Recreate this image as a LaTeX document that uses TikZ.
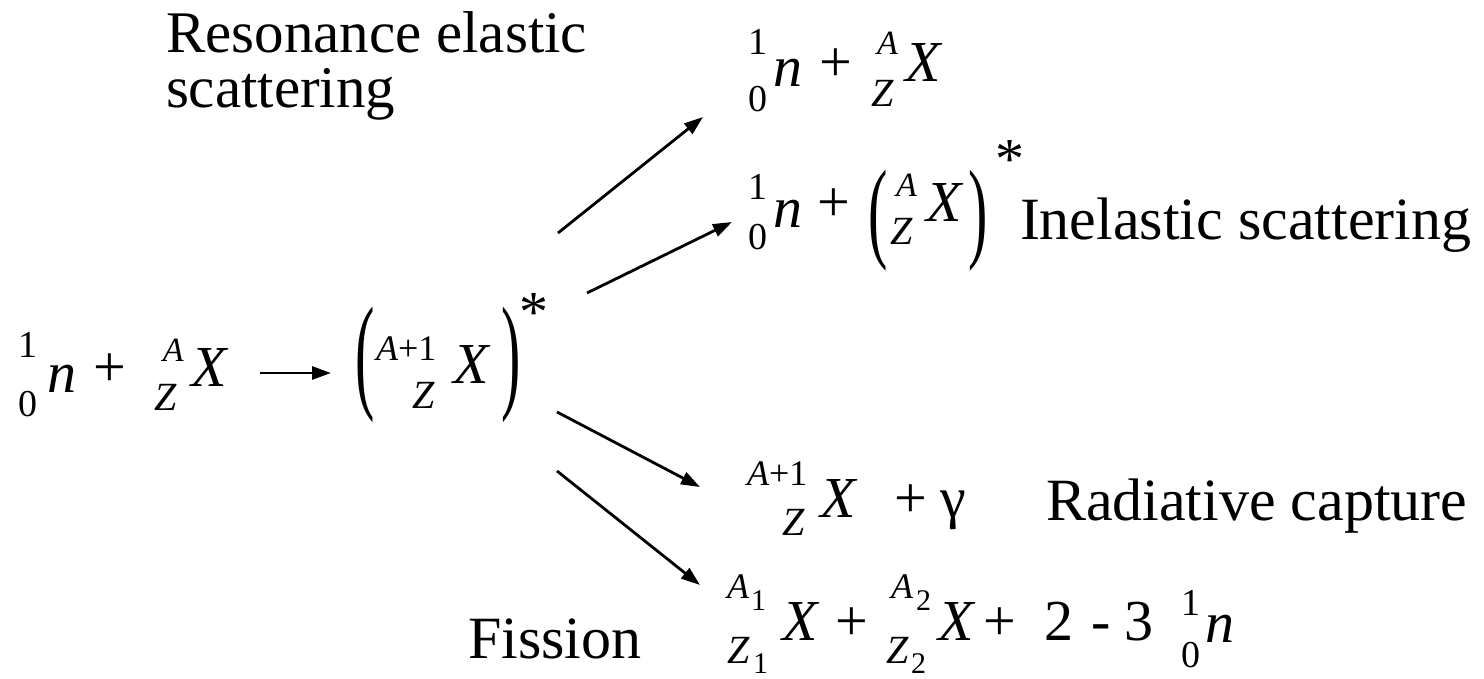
\documentclass[tikz,border=0pt]{standalone}
\usepackage{fontspec}
\IfFontExistsTF{LiberationSerif-Regular.ttf}
 {\setmainfont{LiberationSerif}[Extension=.ttf,UprightFont=*-Regular,ItalicFont=*-Italic,BoldFont=*-Bold,BoldItalicFont=*-BoldItalic]}
 {\setmainfont{Liberation Serif}}
\usepackage{graphicx}
\usetikzlibrary{arrows.meta}
\newcommand\fs[1]{\fontsize{#1}{#1}\selectfont}
\newcommand\at[3]{\rlap{\kern#1pt\raisebox{#2pt}{#3}}}
\begin{document}
\begin{tikzpicture}[x=1pt,y=-1pt,
  txt/.style={anchor=base west,inner sep=0pt,outer sep=0pt,font=\fs{58}},
  lbl/.style={txt,font=\fs{60}},
  arr/.style={line width=2.8pt,-{Triangle[length=19pt,width=13pt]}}]
\useasboundingbox (0,0) rectangle (1484,679);
% labels
\node[lbl,align=left,font=\fontsize{59}{55}\selectfont] (res) at (166,108) {Resonance elastic\\scattering};
\node[lbl] (inel) at (1020,240) {Inelastic scattering};
\node[lbl] (rad) at (1046,520) {Radiative capture};
\node[lbl] (fis) at (468,658) {Fission};
% left side
\node[txt] (lhs) at (18,386) {%
 \at{0}{29}{\fs{38}1}\at{0}{-30}{\fs{38}0}%
 \at{29}{-6}{\textit{n}}\at{75}{0}{+}%
 \at{145}{25}{\fs{34}\textit{A}}\at{137}{-24}{\fs{40}\textit{Z}}%
 \at{173}{0}{\textit{X}}\hspace*{222pt}};
\node[txt] (cmp) at (355,383) {%
 \at{0}{-13}{\scalebox{1}[2.2]{(}}%
 \at{21}{23}{\fs{36}\textit{A}+1}\at{57}{-25}{\fs{40}\textit{Z}}%
 \at{98}{0}{\textit{X}}%
 \at{146}{-13}{\scalebox{1}[2.2]{)}}%
 \at{164}{52}{*}\hspace*{185pt}};
% products
\node[txt] (p1) at (748,82) {%
 \at{0}{27}{\fs{38}1}\at{0}{-30}{\fs{38}0}%
 \at{25}{-5}{\textit{n}}\at{71}{0}{+}%
 \at{129}{27}{\fs{34}\textit{A}}\at{123}{-25}{\fs{40}\textit{Z}}%
 \at{157}{0}{\textit{X}}\hspace*{205pt}};
\node[txt] (p2) at (748,222) {%
 \at{0}{22}{\fs{38}1}\at{0}{-28}{\fs{38}0}%
 \at{25}{-6}{\textit{n}}\at{69}{0}{+}%
 \at{120}{-26}{\scalebox{1}[1.92]{(}}%
 \at{148}{25}{\fs{34}\textit{A}}\at{142}{-23}{\fs{40}\textit{Z}}%
 \at{178}{0}{\textit{X}}%
 \at{220}{-26}{\scalebox{1}[1.92]{)}}%
 \at{247}{43}{*}\hspace*{270pt}};
\node[txt] (p3) at (747,517) {%
 \at{0}{32}{\fs{36}\textit{A}+1}\at{35}{-18}{\fs{40}\textit{Z}}%
 \at{73}{0}{\textit{X}}\at{147}{0}{+}\at{193}{0}{γ}\hspace*{225pt}};
\node[txt] (p4) at (727,640) {%
 \at{0}{42}{\fs{36}\textit{A}}\at{24}{30}{\fs{30}1}%
 \at{0}{-23}{\fs{40}\textit{Z}}\at{26}{-33}{\fs{30}1}%
 \at{55}{0}{\textit{X}}\at{108}{0}{+}%
 \at{164}{42}{\fs{36}\textit{A}}\at{189}{30}{\fs{30}2}%
 \at{159}{-23}{\fs{40}\textit{Z}}\at{184}{-33}{\fs{30}2}%
 \at{211}{0}{\textit{X}}\at{256}{0}{+}%
 \at{318}{0}{2}\at{364}{0}{-}\at{397}{0}{3}%
 \at{454}{25}{\fs{38}1}\at{454}{-27}{\fs{38}0}%
 \at{478}{-2}{\textit{n}}\hspace*{508pt}};
% arrows
\coordinate (a0s) at (260,373); \coordinate (a0e) at (331,373);
\coordinate (a1s) at (558,233); \coordinate (a1e) at (703,117);
\coordinate (a2s) at (587,293); \coordinate (a2e) at (732,222);
\coordinate (a3s) at (557,412); \coordinate (a3e) at (700,487);
\coordinate (a4s) at (557,471); \coordinate (a4e) at (700,585);
\draw[arr] (a0s) -- (a0e);
\draw[arr] (a1s) -- (a1e);
\draw[arr] (a2s) -- (a2e);
\draw[arr] (a3s) -- (a3e);
\draw[arr] (a4s) -- (a4e);
\end{tikzpicture}
\end{document}
